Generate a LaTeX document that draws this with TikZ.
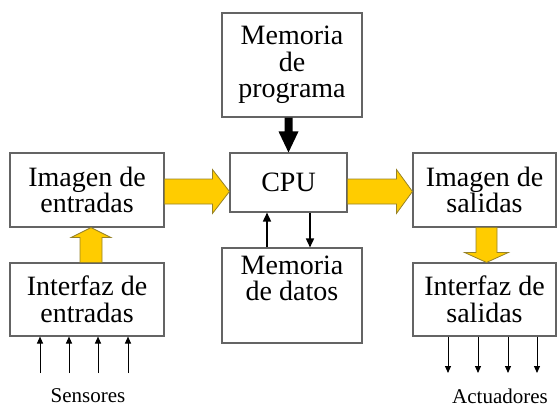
\documentclass[tikz,border=0pt]{standalone}
\usepackage{fontspec}
\setmainfont{Liberation Serif}
\newfontfamily\timesf{Liberation Serif}
\usetikzlibrary{calc,arrows.meta}
\definecolor{boxline}{RGB}{100,100,100}
\definecolor{busfill}{RGB}{255,204,0}
\definecolor{busline}{RGB}{150,130,40}
\tikzset{
  block/.style={draw=boxline, line width=1.1pt, fill=white, inner sep=0pt,
    align=center, font=\timesf\fontsize{28}{26.5}\selectfont},
  bus/.style={fill=busfill, draw=busline, line width=0.8pt, line join=miter},
  sig/.style={line width=1pt, -{Triangle[length=7pt,width=6pt]}},
  link/.style={line width=1.6pt, -{Triangle[length=9pt,width=8pt]}},
  caption/.style={font=\timesf\fontsize{21}{24}\selectfont, inner sep=0pt}
}
\begin{document}
\begin{tikzpicture}[x=1pt,y=-1pt]
\useasboundingbox (0,0) rectangle (557,407);

% boxes
\node[block, minimum width=154pt, minimum height=74pt] (inimg) at (87,190) {Imagen de\\entradas};
\node[block, minimum width=154pt, minimum height=73pt] (inif) at (87,299.5) {Interfaz de\\entradas};
\node[block, minimum width=140pt, minimum height=104pt] (prog) at (292,65) {Memoria\\de\\programa};
\node[block, minimum width=117pt, minimum height=59pt] (cpu) at (288.5,182.5) {CPU};
\node[block, minimum width=140pt, minimum height=95pt] (datos) at (292,295.5) {};
\node[font=\timesf\fontsize{28}{26.5}\selectfont, align=center, anchor=north, inner sep=0pt] (datostxt)
  at ($(datos.north)+(0,8)$) {Memoria\\de datos};
\node[block, minimum width=143pt, minimum height=74pt] (outimg) at (484.5,190) {Imagen de\\salidas};
\node[block, minimum width=143pt, minimum height=73pt] (outif) at (484.5,299.5) {Interfaz de\\salidas};

% wide buses: input image -> CPU -> output image
\path let \p1=(inimg.east), \p2=(cpu.west) in
  coordinate (a1) at (\x1,\y1-1.5) coordinate (a2) at (\x2,\y1-1.5);
\draw[bus] ($(a1)+(0,-12.5)$) -- ($(a2)+(-17,-12.5)$) -- ($(a2)+(-17,-22)$) -- (a2)
  -- ($(a2)+(-17,22)$) -- ($(a2)+(-17,12.5)$) -- ($(a1)+(0,12.5)$) -- cycle;
\path let \p1=(cpu.east), \p2=(outimg.west) in
  coordinate (b1) at (\x1,\y2-1.5) coordinate (b2) at (\x2,\y2-1.5);
\draw[bus] ($(b1)+(0,-12.5)$) -- ($(b2)+(-16,-12.5)$) -- ($(b2)+(-16,-22)$) -- (b2)
  -- ($(b2)+(-16,22)$) -- ($(b2)+(-16,12.5)$) -- ($(b1)+(0,12.5)$) -- cycle;

% input interface -> input image
\path let \p1=(inif.north), \p2=(inimg.south) in
  coordinate (c1) at (\x1+4,\y1) coordinate (c2) at (\x1+4,\y2);
\draw[bus] ($(c1)+(-11,0)$) -- ($(c2)+(-11,10)$) -- ($(c2)+(-20,10)$) -- (c2)
  -- ($(c2)+(20,10)$) -- ($(c2)+(11,10)$) -- ($(c1)+(11,0)$) -- cycle;

% output image -> output interface
\path let \p1=(outimg.south), \p2=(outif.north) in
  coordinate (d1) at (\x1+2,\y1) coordinate (d2) at (\x1+2,\y2);
\draw[bus] ($(d1)+(-10.5,0)$) -- ($(d2)+(-10.5,-10)$) -- ($(d2)+(-22,-10)$) -- (d2)
  -- ($(d2)+(22,-10)$) -- ($(d2)+(10.5,-10)$) -- ($(d1)+(10.5,0)$) -- cycle;

% program memory -> CPU
\path let \p1=(cpu.north), \p2=(prog.south) in
  coordinate (e1) at (\x1,\y2) coordinate (e2) at (\x1,\y1);
\fill ($(e1)+(-4,0)$) -- ($(e2)+(-4,-21)$) -- ($(e2)+(-10,-21)$) -- (e2)
  -- ($(e2)+(10,-21)$) -- ($(e2)+(4,-21)$) -- ($(e1)+(4,0)$) -- cycle;

% data memory <-> CPU
\coordinate (up) at (267,0);
\coordinate (dn) at (310,0);
\draw[link] (up |- datos.north) -- (up |- cpu.south);
\draw[link] (dn |- cpu.south) -- (dn |- datos.north);

% sensors
\foreach \i/\x in {1/40,2/69,3/98,4/128} {
  \coordinate (s\i) at (\x,373);
  \draw[sig] (s\i) -- (s\i |- inif.south);
}
% actuators
\foreach \i/\x in {1/448,2/478,3/508,4/537} {
  \coordinate (t\i) at (\x,373);
  \draw[sig] (t\i |- outif.south) -- (t\i);
}

\node[caption] (sens) at (88,396) {Sensores};
\node[caption] (act) at (500,396) {Actuadores};
\end{tikzpicture}
\end{document}
